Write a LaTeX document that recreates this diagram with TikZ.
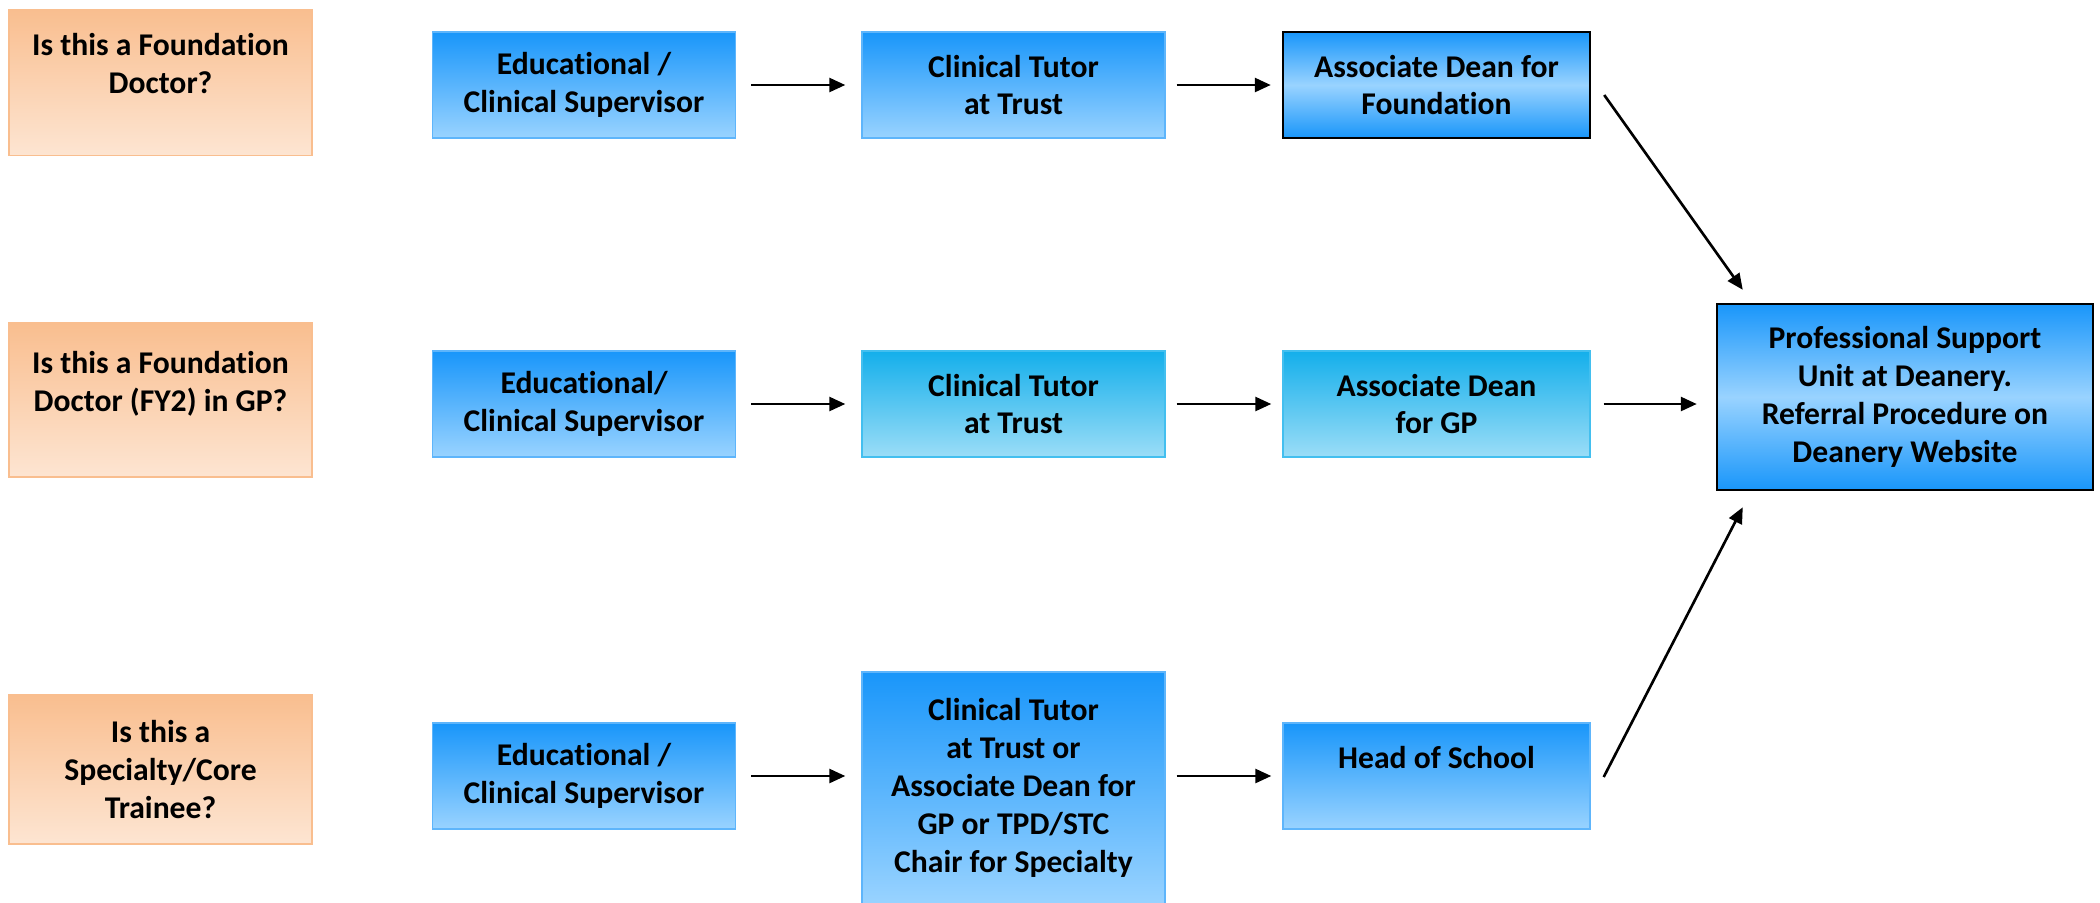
\documentclass[tikz,border=0pt]{standalone}
\usepackage{fontspec}
\setmainfont{Carlito}[Ligatures=NoCommon]
\usepackage{xcolor}
\usetikzlibrary{positioning, arrows.meta, calc}

\definecolor{peachtop}{HTML}{F9BE8F}
\definecolor{peachbot}{HTML}{FDE5D2}
\definecolor{bluetop}{HTML}{1996FA}
\definecolor{bluebot}{HTML}{99D3FF}
\definecolor{cyantop}{HTML}{14AFEB}
\definecolor{cyanbot}{HTML}{9BDDF7}

\pgfdeclareverticalshading{mirrorblue}{100bp}{
    color(0bp)=(bluetop); color(25bp)=(bluetop); color(50bp)=(bluebot);
    color(75bp)=(bluetop); color(100bp)=(bluetop)}

\begin{document}
\begin{tikzpicture}[
    % Define specific styles to match the drawing
    query/.style={
        rectangle,
        draw=peachtop,
        top color=peachtop,
        bottom color=peachbot,
        minimum width=3.03cm,
        font=\bfseries\fontsize{9}{10.8}\selectfont,
        align=center
    },
    role/.style={
        rectangle,
        draw=bluetop!70!white,
        top color=bluetop,
        bottom color=bluebot,
        minimum width=3.03cm,
        minimum height=1.06cm,
        font=\bfseries\fontsize{9}{10.8}\selectfont,
        align=center
    },
    role_cyan/.style={
        role,
        draw=cyantop!80!white,
        top color=cyantop,
        bottom color=cyanbot
    },
    role_dark/.style={
        rectangle,
        draw=black,
        line width=0.7pt,
        shading=mirrorblue,
        minimum width=3.03cm,
        minimum height=1.06cm,
        font=\bfseries\fontsize{9}{10.8}\selectfont,
        align=center
    },
    flow/.style={
        draw=black,
        line width=0.75pt,
        -{Triangle[length=0.16cm, width=0.14cm]}
    }
]
    \useasboundingbox (0,0) rectangle (21,-9.03);

    % --- Questions ---
    \node[query, minimum height=1.46cm] (qfound) at (1.605,-0.824) {Is this a Foundation\\Doctor?\\~};
    \node[query, minimum height=1.54cm] (qgp) at (1.605,-4.0) {Is this a Foundation\\Doctor (FY2) in GP?\\~};
    \node[query, minimum height=1.49cm] (qspec) at (1.605,-7.694) {Is this a\\Specialty/Core\\Trainee?};

    % --- Foundation route ---
    \node[role] (supfound) at (5.84,-0.85) {Educational /\\Clinical Supervisor};
    \node[role] (tutfound) at (10.135,-0.85) {Clinical Tutor\\at Trust};
    \node[role_dark, minimum width=3.07cm] (deanfound) at (14.365,-0.85) {Associate Dean for\\Foundation};

    % --- GP route ---
    \node[role] (supgp) at (5.84,-4.04) {Educational/\\Clinical Supervisor};
    \node[role_cyan] (tutgp) at (10.135,-4.04) {Clinical Tutor\\at Trust};
    \node[role_cyan, minimum width=3.07cm] (deangp) at (14.365,-4.04) {Associate Dean\\for GP};

    % --- Specialty route ---
    \node[role] (supspec) at (5.84,-7.76) {Educational /\\Clinical Supervisor};
    \node[role, minimum height=2.32cm] (tutspec) at (10.135,-7.88) {Clinical Tutor\\at Trust or\\Associate Dean for\\GP or TPD/STC\\Chair for Specialty};
    \node[role, minimum width=3.07cm] (headspec) at (14.365,-7.76) {Head of School\\~};

    % --- Deanery ---
    \node[role_dark, minimum width=3.76cm, minimum height=1.86cm] (psu) at (19.05,-3.97) {Professional Support\\Unit at Deanery.\\Referral Procedure on\\Deanery Website};

    % --- Free ends of the slanted arrows ---
    \coordinate (fromfound) at ($(deanfound.east)+(0.13,-0.10)$);
    \coordinate (tofound) at ($(psu.north west)+(0.27,0.13)$);
    \coordinate (fromspec) at ($(headspec.east)+(0.13,-0.01)$);
    \coordinate (tospec) at ($(psu.south west)+(0.27,-0.16)$);

    % --- Arrows ---
    \draw[flow, shorten <=0.15cm, shorten >=0.16cm] (supfound) -- (tutfound);
    \draw[flow, shorten <=0.11cm, shorten >=0.11cm] (tutfound) -- (deanfound);
    \draw[flow, shorten <=0.15cm, shorten >=0.16cm] (supgp) -- (tutgp);
    \draw[flow, shorten <=0.11cm, shorten >=0.11cm] (tutgp) -- (deangp);
    \draw[flow, shorten <=0.13cm, shorten >=0.19cm] (deangp) -- (psu.west |- deangp);
    \draw[flow, shorten <=0.15cm, shorten >=0.16cm] (supspec) -- (tutspec.west |- supspec);
    \draw[flow, shorten <=0.11cm, shorten >=0.11cm] (tutspec.east |- headspec) -- (headspec);
    \draw[flow] (fromfound) -- (tofound);
    \draw[flow] (fromspec) -- (tospec);

\end{tikzpicture}
\end{document}
